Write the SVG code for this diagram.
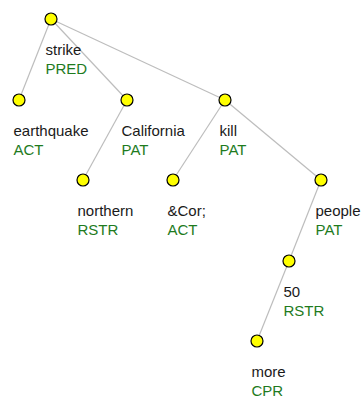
<svg xmlns="http://www.w3.org/2000/svg" width="361" height="397" viewBox="0 0 361 397">
  <style>
    .edge { stroke: #bdbdbd; stroke-width: 1.2; fill: none; }
    .node { fill: #ffff00; stroke: #000; stroke-width: 1.2; }
    .lemma { font-family: "Liberation Sans", Arial, sans-serif; font-size: 15px; fill: #1a1a1a; }
    .func { font-family: "Liberation Sans", Arial, sans-serif; font-size: 15px; fill: #1e7b1e; }
  </style>
  <rect width="361" height="397" fill="#ffffff"/>
  <g id="edges">
    <line class="edge" x1="51" y1="19" x2="19" y2="100"/>
    <line class="edge" x1="51" y1="19" x2="127" y2="100"/>
    <line class="edge" x1="51" y1="19" x2="225" y2="100"/>
    <line class="edge" x1="127" y1="100" x2="83" y2="180"/>
    <line class="edge" x1="225" y1="100" x2="173" y2="180"/>
    <line class="edge" x1="225" y1="100" x2="321" y2="180"/>
    <line class="edge" x1="321" y1="180" x2="289" y2="261"/>
    <line class="edge" x1="289" y1="261" x2="257" y2="341"/>
  </g>
  <g id="n-strike">
    <circle class="node" cx="51" cy="19" r="6"/>
    <text class="lemma" x="45.5" y="55">strike</text>
    <text class="func" x="45.5" y="73.5">PRED</text>
  </g>
  <g id="n-earthquake">
    <circle class="node" cx="19" cy="100" r="6"/>
    <text class="lemma" x="13.5" y="136">earthquake</text>
    <text class="func" x="13.5" y="154.5">ACT</text>
  </g>
  <g id="n-california">
    <circle class="node" cx="127" cy="100" r="6"/>
    <text class="lemma" x="121.5" y="136">California</text>
    <text class="func" x="121.5" y="154.5">PAT</text>
  </g>
  <g id="n-northern">
    <circle class="node" cx="83" cy="180" r="6"/>
    <text class="lemma" x="77.5" y="216">northern</text>
    <text class="func" x="77.5" y="234.5">RSTR</text>
  </g>
  <g id="n-kill">
    <circle class="node" cx="225" cy="100" r="6"/>
    <text class="lemma" x="219.5" y="136">kill</text>
    <text class="func" x="219.5" y="154.5">PAT</text>
  </g>
  <g id="n-cor">
    <circle class="node" cx="173" cy="180" r="6"/>
    <text class="lemma" x="167.5" y="216">&amp;Cor;</text>
    <text class="func" x="167.5" y="234.5">ACT</text>
  </g>
  <g id="n-people">
    <circle class="node" cx="321" cy="180" r="6"/>
    <text class="lemma" x="315.5" y="216">people</text>
    <text class="func" x="315.5" y="234.5">PAT</text>
  </g>
  <g id="n-50">
    <circle class="node" cx="289" cy="261" r="6"/>
    <text class="lemma" x="283.5" y="297">50</text>
    <text class="func" x="283.5" y="315.5">RSTR</text>
  </g>
  <g id="n-more">
    <circle class="node" cx="257" cy="341" r="6"/>
    <text class="lemma" x="251.5" y="377">more</text>
    <text class="func" x="251.5" y="395.5">CPR</text>
  </g>
</svg>
